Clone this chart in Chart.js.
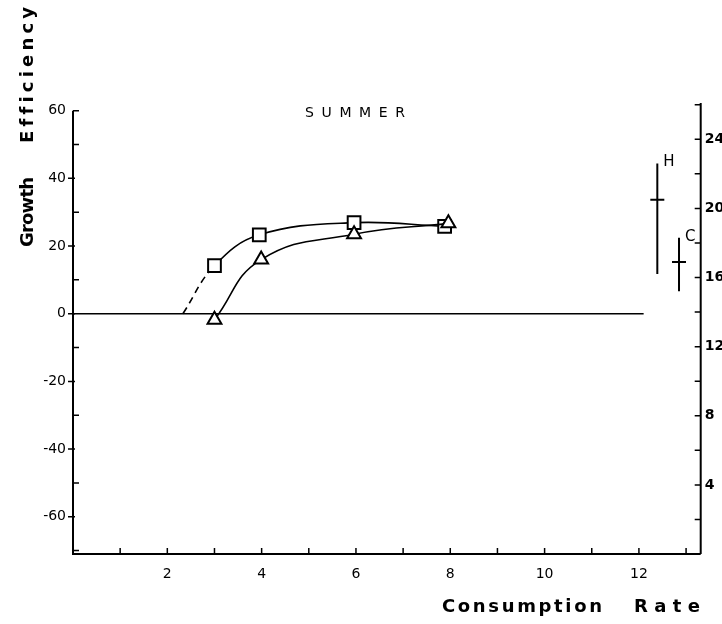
<!DOCTYPE html>
<html>
<head>
<meta charset="utf-8">
<script src="https://cdn.jsdelivr.net/npm/chart.js@4.4.0/dist/chart.umd.min.js"></script>
<style>
  html, body { margin: 0; padding: 0; background: #fff; }
</style>
</head>
<body>
<canvas id="chart1" width="722" height="624"></canvas>
<script>
// Squares series (consumption rate vs growth efficiency)
var squareX = [3.0, 3.95, 5.96, 7.88]
var squareY = [14.2, 23.3, 26.9, 25.8]
// Triangles series
var triX = [3.0, 3.99, 5.96, 7.96]
var triY = [-1.8, 16.0, 23.5, 26.7]
// where the dashed extension of the squares curve meets zero
var dashX = [2.33]
var dashY = [0]
// zero reference line
var zeroX = [0, 12.1]
var zeroY = [0, 0]
// H and C bars, read on the right axis
var barNames = ['H', 'C']
var barX = [12.39, 12.85]
var barMid = [20.5, 16.9]
var barLow = [16.2, 15.2]
var barHigh = [22.6, 18.3]
// tick labels and tick marks
var xLabels = [2, 4, 6, 8, 10, 12]
var yLabels = [-60, -40, -20, 0, 20, 40, 60]
var y2Labels = [4, 8, 12, 16, 20, 24]
var xMarks = [1, 2, 3, 4, 5, 6, 7, 8, 9, 10, 11, 12, 13]
var yMarks = [-70, -60, -50, -40, -30, -20, -10, 0, 10, 20, 30, 40, 50, 60]
var y2Marks = [2, 4, 6, 8, 10, 12, 14, 16, 18, 20, 22, 24, 26]

function pts(xs, ys) {
  return xs.map(function (x, i) { return { x: x, y: ys[i] } })
}

var tickFont = { family: 'DejaVu Sans', size: 14 }

function spaced(ctx, text, x, y, width) {
  var chars = text.split('')
  var total = 0
  chars.forEach(function (c) { total += ctx.measureText(c).width })
  var gap = chars.length > 1 ? (width - total) / (chars.length - 1) : 0
  chars.forEach(function (c) {
    ctx.fillText(c, x, y)
    x += ctx.measureText(c).width + gap
  })
}

var axesPlugin = {
  id: 'axesPlugin',
  beforeDatasetsDraw: function (chart) {
    var ctx = chart.ctx
    var xs = chart.scales.x, ys = chart.scales.y, y2 = chart.scales.y2
    var a = chart.chartArea
    ctx.save()
    ctx.strokeStyle = '#000'
    ctx.lineWidth = 2
    ctx.beginPath()
    // left axis
    ctx.moveTo(a.left, ys.getPixelForValue(60))
    ctx.lineTo(a.left, a.bottom)
    // bottom axis
    ctx.lineTo(xs.getPixelForValue(xs.max), a.bottom)
    // right axis
    ctx.moveTo(a.right, y2.getPixelForValue(0))
    ctx.lineTo(a.right, y2.getPixelForValue(y2.max))
    ctx.stroke()

    ctx.lineWidth = 1.5
    ctx.beginPath()
    yMarks.forEach(function (v) {
      var p = ys.getPixelForValue(v)
      if (v % 20 === 0 && v !== 60) {
        ctx.moveTo(a.left - 5, p); ctx.lineTo(a.left + 2, p)
      } else {
        ctx.moveTo(a.left, p); ctx.lineTo(a.left + 6, p)
      }
    })
    xMarks.forEach(function (v) {
      var p = xs.getPixelForValue(v)
      ctx.moveTo(p, a.bottom); ctx.lineTo(p, a.bottom - 6)
    })
    y2Marks.forEach(function (v) {
      var p = y2.getPixelForValue(v)
      ctx.moveTo(a.right, p); ctx.lineTo(a.right - 6, p)
    })
    ctx.stroke()
    ctx.restore()
  },
  afterDraw: function (chart) {
    var ctx = chart.ctx
    var xs = chart.scales.x, y2 = chart.scales.y2
    ctx.save()
    ctx.fillStyle = '#000'
    ctx.textBaseline = 'alphabetic'

    // axis titles
    ctx.font = 'bold 18px "DejaVu Sans"'
    ctx.save()
    ctx.translate(33, 247)
    ctx.rotate(-Math.PI / 2)
    spaced(ctx, 'Growth', 0, 0, 70)
    spaced(ctx, 'Efficiency', 104, 0, 136)
    ctx.restore()
    spaced(ctx, 'Consumption', 442, 612, 160)
    spaced(ctx, 'Rate', 634, 612, 66)

    // panel title
    ctx.font = '14px "DejaVu Sans"'
    spaced(ctx, 'SUMMER', 305, 117, 100)

    // H / C labels next to the bars
    ctx.font = '15px "DejaVu Sans"'
    ctx.textBaseline = 'middle'
    barNames.forEach(function (n, i) {
      var px = xs.getPixelForValue(barX[i]) + 6
      var py = y2.getPixelForValue(barHigh[i]) - 1
      ctx.fillText(n, px, py)
    })
    ctx.restore()
  }
}

var datasets = [
  {
    data: pts(triX, triY),
    showLine: true,
    tension: 0.45,
    borderColor: '#000',
    borderWidth: 1.6,
    pointStyle: 'triangle',
    pointRadius: 8,
    pointBackgroundColor: '#fff',
    pointBorderColor: '#000',
    pointBorderWidth: 2,
    yAxisID: 'y'
  },
  {
    // first point is the dashed start on the zero line, no marker
    data: pts(dashX.concat(squareX), dashY.concat(squareY)),
    showLine: true,
    tension: 0.4,
    borderColor: '#000',
    borderWidth: 1.6,
    segment: {
      borderDash: function (ctx) { return ctx.p0DataIndex === 0 ? [7, 5] : undefined }
    },
    pointStyle: 'rect',
    pointRadius: function (ctx) { return ctx.dataIndex === 0 ? 0 : 9 },
    pointBackgroundColor: '#fff',
    pointBorderColor: '#000',
    pointBorderWidth: 2,
    yAxisID: 'y'
  },
  {
    data: pts(zeroX, zeroY),
    showLine: true,
    borderColor: '#000',
    borderWidth: 1.6,
    pointRadius: 0,
    yAxisID: 'y'
  }
]

barNames.forEach(function (n, i) {
  datasets.push({
    label: n,
    data: [{ x: barX[i], y: barLow[i] }, { x: barX[i], y: barHigh[i] }],
    showLine: true,
    borderColor: '#000',
    borderWidth: 2,
    pointRadius: 0,
    yAxisID: 'y2'
  })
  datasets.push({
    label: n + ' mean',
    data: [{ x: barX[i], y: barMid[i] }],
    pointStyle: 'line',
    pointRadius: 7,
    pointBorderColor: '#000',
    pointBorderWidth: 2,
    yAxisID: 'y2'
  })
})

var chartCanvas = document.getElementById('chart1').getContext('2d')

new Chart(chartCanvas, {
  type: 'scatter',
  data: { datasets: datasets },
  options: {
    responsive: false,
    animation: false,
    devicePixelRatio: 1,
    layout: { padding: { top: 103, left: 0, right: 0, bottom: 0 } },
    plugins: {
      legend: { display: false },
      tooltip: { enabled: false },
      title: { display: false }
    },
    scales: {
      x: {
        type: 'linear',
        position: 'bottom',
        min: 0,
        max: 13.31,
        grid: { display: false, drawTicks: false },
        border: { display: false },
        ticks: { color: '#000', font: tickFont, padding: 12, maxRotation: 0 },
        afterBuildTicks: function (axis) {
          axis.ticks = xLabels.map(function (v) { return { value: v } })
        },
        afterFit: function (axis) { axis.height = 70 }
      },
      y: {
        type: 'linear',
        position: 'left',
        min: -71,
        max: 62.26,
        grid: { display: false, drawTicks: false },
        border: { display: false },
        ticks: { color: '#000', font: tickFont, padding: 7 },
        afterBuildTicks: function (axis) {
          axis.ticks = yLabels.map(function (v) { return { value: v } })
        },
        afterFit: function (axis) { axis.width = 73 }
      },
      y2: {
        type: 'linear',
        position: 'right',
        min: 0,
        max: 26.1,
        grid: { display: false, drawTicks: false },
        border: { display: false },
        ticks: { color: '#000', font: { family: 'DejaVu Sans', size: 14, weight: 'bold' }, padding: 4 },
        afterBuildTicks: function (axis) {
          axis.ticks = y2Labels.map(function (v) { return { value: v } })
        },
        afterFit: function (axis) { axis.width = 21.3 }
      }
    }
  },
  plugins: [axesPlugin]
})
</script>
</body>
</html>
